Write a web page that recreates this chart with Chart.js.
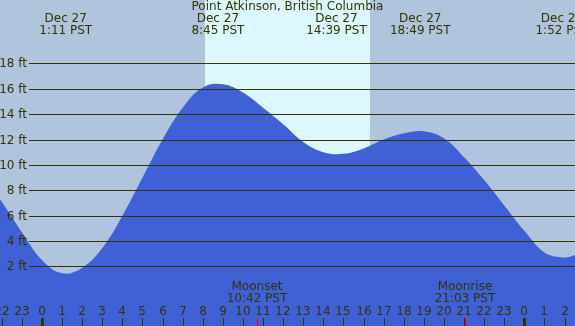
<!DOCTYPE html>
<html>
<head>
<meta charset="utf-8">
<script src="https://cdn.jsdelivr.net/npm/chart.js@4/dist/chart.umd.min.js"></script>
<style>
  html, body { margin: 0; padding: 0; background: #b0c4de; }
  canvas { display: block; }
</style>
</head>
<body>
<canvas id="tideChart" width="575" height="326"></canvas>
<script>
// tide heights, one per hour (hours from midnight Dec 27, feet)
const hours = [-2.09, -2, -1, 0, 1, 2, 3, 4, 5, 6, 7, 8, 9, 10, 11, 12, 13, 14,
               15, 16, 17, 18, 19, 20, 21, 22, 23, 24, 25, 26, 26.52];
const heights = [7.25, 7.1, 4.7, 2.5, 1.45, 1.9, 3.45, 6.0, 9.0, 12.0, 14.5, 16.1, 16.35, 15.7, 14.5, 13.2, 11.8, 11.0,
                 10.87, 11.3, 12.0, 12.5, 12.65, 12.1, 10.6, 8.8, 6.8, 4.8, 3.1, 2.7, 2.9];

const yTicks = [2, 4, 6, 8, 10, 12, 14, 16, 18];
const hourTicks = [-2, -1, 0, 1, 2, 3, 4, 5, 6, 7, 8, 9, 10, 11, 12, 13, 14, 15, 16, 17, 18, 19, 20, 21, 22, 23, 24, 25, 26];

const extremeHours = [1.18, 8.75, 14.65, 18.82, 25.87];
const extremeDates = ['Dec 27', 'Dec 27', 'Dec 27', 'Dec 27', 'Dec 28'];
const extremeTimes = ['1:11 PST', '8:45 PST', '14:39 PST', '18:49 PST', '1:52 PST'];

const sunrise = 8.11;
const sunset = 16.32;

const moonHours = [10.7, 21.05];
const moonNames = ['Moonset', 'Moonrise'];
const moonTimes = ['10:42 PST', '21:03 PST'];

const title = 'Point Atkinson, British Columbia';

const textColor = '#333300';
const font = '12px "DejaVu Sans"';

const tidePlugin = {
    id: 'tide',
    beforeDatasetsDraw(chart) {
        const ctx = chart.ctx;
        const x = chart.scales.x;
        const w = chart.width, h = chart.height;
        ctx.save();
        ctx.fillStyle = '#b0c4de';
        ctx.fillRect(0, 0, w, h);
        ctx.fillStyle = '#ddf7ff';
        const x0 = Math.round(x.getPixelForValue(sunrise));
        const x1 = Math.round(x.getPixelForValue(sunset));
        ctx.fillRect(x0, 0, x1 - x0, h);
        ctx.restore();
    },
    afterDatasetsDraw(chart) {
        const ctx = chart.ctx;
        const x = chart.scales.x;
        const y = chart.scales.y;
        const w = chart.width, h = chart.height;
        ctx.save();

        // horizontal grid lines and labels
        ctx.strokeStyle = textColor;
        ctx.lineWidth = 1;
        ctx.fillStyle = textColor;
        ctx.font = font;
        ctx.textAlign = 'right';
        ctx.textBaseline = 'middle';
        yTicks.forEach(v => {
            const py = Math.round(y.getPixelForValue(v)) + 0.5;
            ctx.beginPath();
            ctx.moveTo(29, py);
            ctx.lineTo(w, py);
            ctx.stroke();
            ctx.fillText(v + ' ft', 27, py);
        });

        // hour ticks along the bottom
        ctx.textAlign = 'center';
        hourTicks.forEach(t => {
            const px = Math.round(x.getPixelForValue(t));
            const hh = ((t % 24) + 24) % 24;
            ctx.fillText(String(hh), px, 312);
            if (hh === 0) ctx.fillRect(px - 1, 318, 3, 8);
            else ctx.fillRect(px, 318, 1, 8);
        });

        // moon events
        moonHours.forEach((t, i) => {
            const px = Math.round(x.getPixelForValue(t));
            ctx.fillStyle = '#ff0000';
            ctx.fillRect(px, 318, 1, 8);
            ctx.fillStyle = textColor;
            ctx.fillText(moonNames[i], px, 287);
            ctx.fillText(moonTimes[i], px, 299);
        });

        // high / low labels
        extremeHours.forEach((t, i) => {
            const px = x.getPixelForValue(t);
            ctx.fillText(extremeDates[i], px, 19);
            ctx.fillText(extremeTimes[i], px, 31);
        });

        ctx.fillText(title, w / 2, 7);
        ctx.restore();
    }
};

new Chart(document.getElementById('tideChart'), {
    type: 'line',
    data: {
        datasets: [{
            data: hours.map((v, i) => ({ x: v, y: heights[i] })),
            borderWidth: 0,
            borderColor: '#4060d6',
            backgroundColor: '#4060d6',
            pointRadius: 0,
            fill: 'start',
            tension: 0.4
        }]
    },
    options: {
        responsive: false,
        animation: false,
        layout: { padding: 0 },
        scales: {
            x: { type: 'linear', min: -2.09, max: 26.52, display: false },
            y: { min: -2.7, max: 23, display: false }
        },
        plugins: {
            legend: { display: false },
            tooltip: { enabled: false }
        }
    },
    plugins: [tidePlugin]
});
</script>
</body>
</html>
